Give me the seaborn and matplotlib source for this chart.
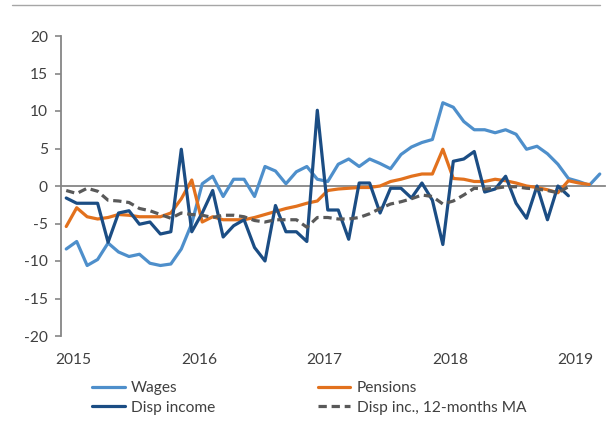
import numpy as np
import pandas as pd
import matplotlib
matplotlib.use("Agg")
import matplotlib.pyplot as plt
import seaborn as sns
from matplotlib.lines import Line2D
from matplotlib.ticker import FixedLocator

# ---- data (monthly, Jan 2015 onward) ----
wages = [-8.4, -7.4, -10.6, -9.8, -7.6, -8.8, -9.4, -9.1, -10.3, -10.6, -10.4, -8.4,
         -5.0, 0.3, 1.3, -1.4, 0.9, 0.9, -1.4, 2.6, 2.0, 0.3, 1.9, 2.6,
         0.9, 0.6, 2.9, 3.6, 2.6, 3.6, 3.0, 2.3, 4.2, 5.2, 5.8, 6.2,
         11.1, 10.5, 8.6, 7.5, 7.5, 7.1, 7.5, 6.9, 4.9, 5.3, 4.3, 2.9,
         1.0, 0.6, 0.1, 1.6]
pensions = [-5.4, -2.9, -4.1, -4.4, -4.2, -3.8, -3.9, -4.1, -4.1, -4.1, -3.6, -1.7,
            0.8, -4.8, -4.1, -4.5, -4.5, -4.5, -4.2, -3.8, -3.4, -3.0, -2.7, -2.3,
            -2.0, -0.6, -0.4, -0.3, -0.2, -0.2, 0.0, 0.6, 0.9, 1.3, 1.6, 1.6,
            4.9, 1.0, 0.9, 0.6, 0.6, 0.9, 0.7, 0.4, 0.0, -0.2, -0.5, -0.9,
            0.7, 0.4, 0.2]
disp_income = [-1.6, -2.3, -2.3, -2.3, -7.5, -3.6, -3.3, -5.1, -4.8, -6.4, -6.1, 4.9,
               -6.1, -3.6, -0.6, -6.8, -5.3, -4.5, -8.2, -10.0, -2.6, -6.1, -6.1, -7.4,
               10.1, -3.2, -3.2, -7.1, 0.4, 0.4, -3.6, -0.3, -0.3, -1.6, 0.4, -1.9,
               -7.8, 3.3, 3.6, 4.6, -0.8, -0.4, 1.3, -2.3, -4.3, 0.0, -4.5, 0.0,
               -1.3]
disp_ma = [-0.6, -1.0, -0.3, -0.7, -1.9, -2.0, -2.2, -3.0, -3.3, -3.8, -4.3, -3.6,
           -3.8, -3.9, -4.2, -3.9, -3.9, -4.1, -4.6, -4.8, -4.5, -4.5, -4.5, -5.5,
           -4.2, -4.2, -4.4, -4.4, -4.2, -3.7, -3.0, -2.4, -2.1, -1.7, -1.2, -1.4,
           -2.4, -2.0, -1.2, -0.3, -0.4, -0.3, -0.1, -0.1, -0.3, -0.4, -0.6, -0.9,
           -0.1]
series_names = ["Wages", "Pensions", "Disp income", "Disp inc., 12-months MA"]
year_labels = ["2015", "2016", "2017", "2018", "2019"]
year_positions = [0.7, 12.7, 24.7, 36.7, 48.7]
y_ticks = [-20, -15, -10, -5, 0, 5, 10, 15, 20]

# ---- style ----
sns.set_style("white")
plt.rcParams['font.family'] = ['Lato', 'DejaVu Sans']
FS = 11.2
TXT = "#404040"
GRID = "#868686"

frames = []
for name, vals in zip(series_names, [wages, pensions, disp_income, disp_ma]):
    frames.append(pd.DataFrame({"month": np.arange(len(vals)), "value": vals, "series": name}))
df = pd.concat(frames, ignore_index=True)

palette = {"Wages": "#4e8fcb", "Pensions": "#e2711d",
           "Disp income": "#1b4d84", "Disp inc., 12-months MA": "#595959"}
dashes = {"Wages": "", "Pensions": "", "Disp income": "",
          "Disp inc., 12-months MA": (2.6, 1.5)}

fig = plt.figure(figsize=(6.1, 4.34), dpi=100)
ax = fig.add_axes([61 / 610, 98 / 434, 544 / 610, 300 / 434])

sns.lineplot(data=df, x="month", y="value", hue="series", style="series",
             hue_order=series_names, style_order=series_names,
             palette=palette, dashes=dashes, linewidth=2.3, ax=ax, legend=False)

ax.set_xlim(-0.5, 51.5)
ax.set_ylim(-20, 20)
ax.set_yticks(y_ticks)
ax.set_yticklabels([str(v) for v in y_ticks], fontsize=FS, color=TXT)
ax.set_xlabel("")
ax.set_ylabel("")

for s in ["top", "right"]:
    ax.spines[s].set_visible(False)
ax.spines["left"].set_color(GRID)
ax.spines["left"].set_linewidth(1.3)
ax.spines["bottom"].set_position(("data", 0))
ax.spines["bottom"].set_color(GRID)
ax.spines["bottom"].set_linewidth(1.3)
ax.spines["bottom"].set_zorder(1)

ax.xaxis.set_major_locator(FixedLocator([]))
ax.xaxis.set_minor_locator(FixedLocator(np.arange(5.5, 51.5, 6)))
ax.tick_params(axis="x", which="minor", direction="out", length=4.5, width=1.2,
               color=GRID, labelbottom=False)
ax.tick_params(axis="y", which="major", direction="out", length=4.5, width=1.2,
               color=GRID, pad=5, left=True)

sec = ax.secondary_xaxis("bottom")
sec.set_xticks(year_positions)
sec.set_xticklabels(year_labels, fontsize=FS, color=TXT)
sec.tick_params(axis="x", length=0, pad=12)
sec.spines["bottom"].set_visible(False)

handles = [Line2D([], [], color=palette[n], lw=2.3,
                  linestyle=(0, dashes[n]) if dashes[n] else "-") for n in series_names]
# column-major order: Wages, Disp income | Pensions, MA
order = [0, 2, 1, 3]
fig.legend([handles[i] for i in order], [series_names[i] for i in order],
           loc="upper left", bbox_to_anchor=(92 / 610, 1 - 381 / 434),
           ncol=2, frameon=False, fontsize=FS, labelcolor=TXT,
           handlelength=2.1, handletextpad=0.4, columnspacing=6.6,
           labelspacing=0.38, borderpad=0, borderaxespad=0)

fig.add_artist(Line2D([12 / 610, 600 / 610], [1 - 5 / 434, 1 - 5 / 434],
                      color="#a6a6a6", lw=1.0, transform=fig.transFigure))

fig.savefig("out.png", dpi=100)
